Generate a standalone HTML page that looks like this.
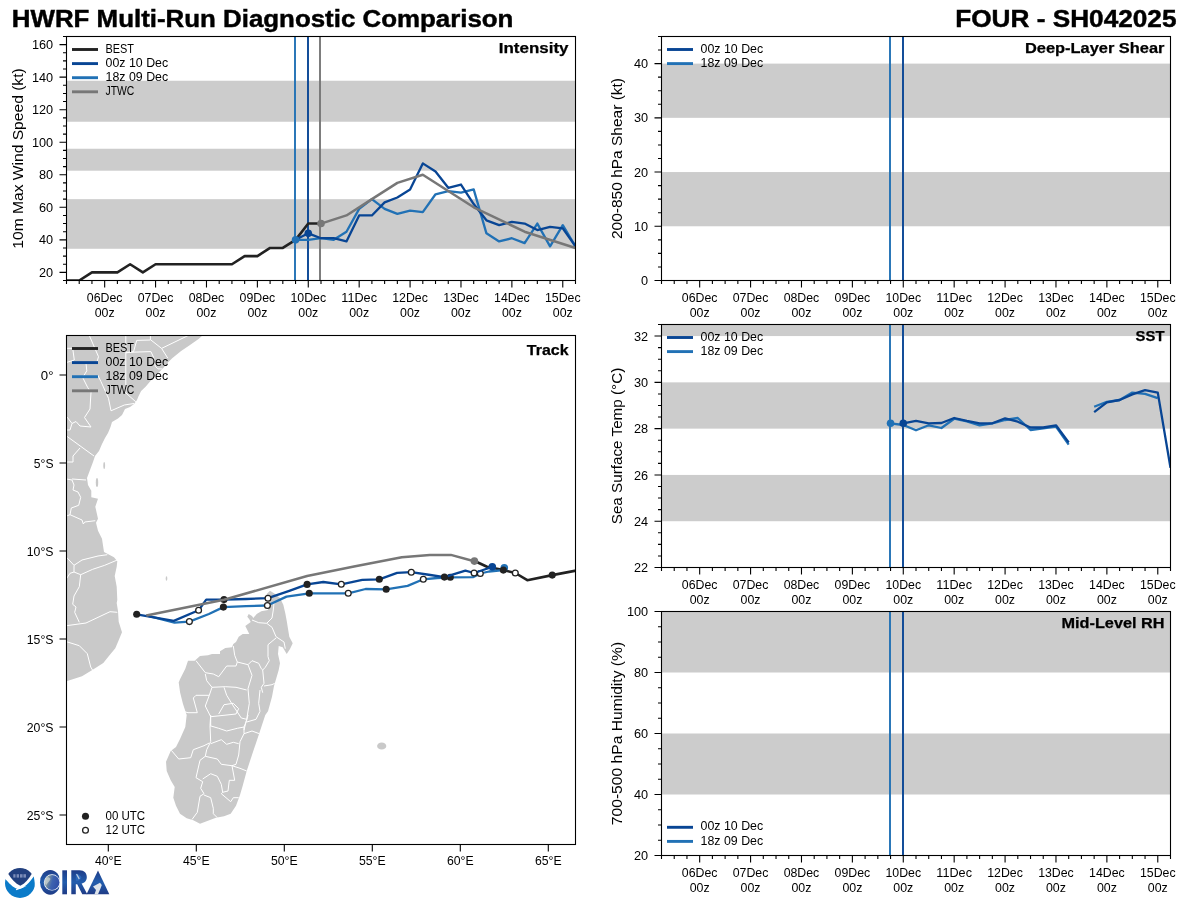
<!DOCTYPE html><html><head><meta charset="utf-8"><style>html,body{margin:0;padding:0;background:#fff;width:1200px;height:900px;overflow:hidden}svg{display:block;will-change:transform}text{font-family:"Liberation Sans",sans-serif}</style></head><body>
<svg width="1200" height="900" viewBox="0 0 1200 900">
<rect width="1200" height="900" fill="#fff"/>
<text x="11.85" y="26.80" font-size="23.55" text-anchor="start" font-weight="bold" stroke="#000" stroke-width="0.45" textLength="501.56" lengthAdjust="spacingAndGlyphs" fill="#000">HWRF Multi-Run Diagnostic Comparison</text>
<text x="1176.50" y="26.80" font-size="23.55" text-anchor="end" font-weight="bold" stroke="#000" stroke-width="0.45" textLength="221.28" lengthAdjust="spacingAndGlyphs" fill="#000">FOUR - SH042025</text>
<rect x="66.50" y="199.17" width="509.00" height="49.61" fill="#cccccc"/>
<rect x="66.50" y="148.74" width="509.00" height="21.96" fill="#cccccc"/>
<rect x="66.50" y="80.75" width="509.00" height="40.99" fill="#cccccc"/>
<defs><clipPath id="ci"><rect x="66.5" y="36.5" width="509.0" height="244.0"/></clipPath></defs>
<g clip-path="url(#ci)">
<line x1="295.00" y1="36.50" x2="295.00" y2="280.50" stroke="#2171b5" stroke-width="1.9"/>
<line x1="308.00" y1="36.50" x2="308.00" y2="280.50" stroke="#084594" stroke-width="1.9"/>
<line x1="320.00" y1="36.50" x2="320.00" y2="280.50" stroke="#777777" stroke-width="1.9"/>
<polyline points="66.50,280.50 79.22,280.50 91.95,272.37 104.67,272.37 117.40,272.37 130.12,264.23 142.85,272.37 155.57,264.23 168.30,264.23 181.03,264.23 193.75,264.23 206.48,264.23 219.20,264.23 231.93,264.23 244.65,256.10 257.38,256.10 270.10,247.97 282.82,247.97 295.55,239.83 308.27,223.57 321.00,223.57" fill="none" stroke="#222222" stroke-width="2.6" stroke-linejoin="round" stroke-linecap="butt"/>
<polyline points="295.55,239.83 308.27,239.83 321.00,238.21 333.73,239.83 346.45,231.70 359.17,208.93 371.90,199.17 384.62,208.93 397.35,213.81 410.08,210.55 422.80,212.18 435.52,194.29 448.25,191.03 460.98,192.66 473.70,189.41 486.42,233.33 499.15,241.46 511.88,238.21 524.60,243.09 537.33,223.57 550.05,246.34 562.77,225.19 575.50,246.34" fill="none" stroke="#2171b5" stroke-width="2.3" stroke-linejoin="round" stroke-linecap="butt"/>
<polyline points="295.55,239.83 308.27,233.33 321.00,238.21 333.73,238.21 346.45,241.46 359.17,215.43 371.90,215.43 384.62,202.42 397.35,197.54 410.08,189.41 422.80,163.38 435.52,171.51 448.25,187.78 460.98,184.53 473.70,204.05 486.42,220.31 499.15,225.19 511.88,221.94 524.60,223.57 537.33,230.07 550.05,226.82 562.77,228.45 575.50,246.34" fill="none" stroke="#084594" stroke-width="2.3" stroke-linejoin="round" stroke-linecap="butt"/>
<polyline points="321.00,223.57 346.45,215.43 371.90,199.17 397.35,182.90 422.80,174.77 473.70,207.30 524.60,231.70 575.50,247.97" fill="none" stroke="#777777" stroke-width="2.5" stroke-linejoin="round" stroke-linecap="butt"/>
<circle cx="295.55" cy="239.83" r="3.8" fill="#2171b5"/>
<circle cx="308.27" cy="233.33" r="3.8" fill="#084594"/>
<circle cx="321.00" cy="223.57" r="3.8" fill="#777777"/>
</g>
<rect x="66.50" y="36.50" width="509.00" height="244.00" fill="none" stroke="#000" stroke-width="1.1"/>
<path d="M66.50 280.50V284.00M79.22 280.50V284.00M91.95 280.50V284.00M104.67 280.50V287.50M117.40 280.50V284.00M130.12 280.50V284.00M142.85 280.50V284.00M155.57 280.50V287.50M168.30 280.50V284.00M181.03 280.50V284.00M193.75 280.50V284.00M206.48 280.50V287.50M219.20 280.50V284.00M231.93 280.50V284.00M244.65 280.50V284.00M257.38 280.50V287.50M270.10 280.50V284.00M282.82 280.50V284.00M295.55 280.50V284.00M308.27 280.50V287.50M321.00 280.50V284.00M333.73 280.50V284.00M346.45 280.50V284.00M359.17 280.50V287.50M371.90 280.50V284.00M384.62 280.50V284.00M397.35 280.50V284.00M410.08 280.50V287.50M422.80 280.50V284.00M435.52 280.50V284.00M448.25 280.50V284.00M460.98 280.50V287.50M473.70 280.50V284.00M486.42 280.50V284.00M499.15 280.50V284.00M511.88 280.50V287.50M524.60 280.50V284.00M537.33 280.50V284.00M550.05 280.50V284.00M562.77 280.50V287.50M575.50 280.50V284.00" stroke="#000" stroke-width="1.1" fill="none"/>
<text x="104.67" y="301.80" font-size="12.22" text-anchor="middle" textLength="35.64" lengthAdjust="spacingAndGlyphs" fill="#000">06Dec</text>
<text x="104.67" y="316.80" font-size="12.22" text-anchor="middle" textLength="19.97" lengthAdjust="spacingAndGlyphs" fill="#000">00z</text>
<text x="155.57" y="301.80" font-size="12.22" text-anchor="middle" textLength="35.64" lengthAdjust="spacingAndGlyphs" fill="#000">07Dec</text>
<text x="155.57" y="316.80" font-size="12.22" text-anchor="middle" textLength="19.97" lengthAdjust="spacingAndGlyphs" fill="#000">00z</text>
<text x="206.48" y="301.80" font-size="12.22" text-anchor="middle" textLength="35.64" lengthAdjust="spacingAndGlyphs" fill="#000">08Dec</text>
<text x="206.48" y="316.80" font-size="12.22" text-anchor="middle" textLength="19.97" lengthAdjust="spacingAndGlyphs" fill="#000">00z</text>
<text x="257.38" y="301.80" font-size="12.22" text-anchor="middle" textLength="35.64" lengthAdjust="spacingAndGlyphs" fill="#000">09Dec</text>
<text x="257.38" y="316.80" font-size="12.22" text-anchor="middle" textLength="19.97" lengthAdjust="spacingAndGlyphs" fill="#000">00z</text>
<text x="308.27" y="301.80" font-size="12.22" text-anchor="middle" textLength="35.64" lengthAdjust="spacingAndGlyphs" fill="#000">10Dec</text>
<text x="308.27" y="316.80" font-size="12.22" text-anchor="middle" textLength="19.97" lengthAdjust="spacingAndGlyphs" fill="#000">00z</text>
<text x="359.17" y="301.80" font-size="12.22" text-anchor="middle" textLength="35.64" lengthAdjust="spacingAndGlyphs" fill="#000">11Dec</text>
<text x="359.17" y="316.80" font-size="12.22" text-anchor="middle" textLength="19.97" lengthAdjust="spacingAndGlyphs" fill="#000">00z</text>
<text x="410.08" y="301.80" font-size="12.22" text-anchor="middle" textLength="35.64" lengthAdjust="spacingAndGlyphs" fill="#000">12Dec</text>
<text x="410.08" y="316.80" font-size="12.22" text-anchor="middle" textLength="19.97" lengthAdjust="spacingAndGlyphs" fill="#000">00z</text>
<text x="460.98" y="301.80" font-size="12.22" text-anchor="middle" textLength="35.64" lengthAdjust="spacingAndGlyphs" fill="#000">13Dec</text>
<text x="460.98" y="316.80" font-size="12.22" text-anchor="middle" textLength="19.97" lengthAdjust="spacingAndGlyphs" fill="#000">00z</text>
<text x="511.88" y="301.80" font-size="12.22" text-anchor="middle" textLength="35.64" lengthAdjust="spacingAndGlyphs" fill="#000">14Dec</text>
<text x="511.88" y="316.80" font-size="12.22" text-anchor="middle" textLength="19.97" lengthAdjust="spacingAndGlyphs" fill="#000">00z</text>
<text x="562.77" y="301.80" font-size="12.22" text-anchor="middle" textLength="35.64" lengthAdjust="spacingAndGlyphs" fill="#000">15Dec</text>
<text x="562.77" y="316.80" font-size="12.22" text-anchor="middle" textLength="19.97" lengthAdjust="spacingAndGlyphs" fill="#000">00z</text>
<path d="M63.00 280.50H66.50M59.50 272.37H66.50M63.00 264.23H66.50M63.00 256.10H66.50M63.00 247.97H66.50M59.50 239.83H66.50M63.00 231.70H66.50M63.00 223.57H66.50M63.00 215.43H66.50M59.50 207.30H66.50M63.00 199.17H66.50M63.00 191.03H66.50M63.00 182.90H66.50M59.50 174.77H66.50M63.00 166.63H66.50M63.00 158.50H66.50M63.00 150.37H66.50M59.50 142.23H66.50M63.00 134.10H66.50M63.00 125.97H66.50M63.00 117.83H66.50M59.50 109.70H66.50M63.00 101.57H66.50M63.00 93.43H66.50M63.00 85.30H66.50M59.50 77.17H66.50M63.00 69.03H66.50M63.00 60.90H66.50M63.00 52.77H66.50M59.50 44.63H66.50M63.00 36.50H66.50" stroke="#000" stroke-width="1.1" fill="none"/>
<text x="53.20" y="276.97" font-size="12.22" text-anchor="end" textLength="14.14" lengthAdjust="spacingAndGlyphs" fill="#000">20</text>
<text x="53.20" y="244.43" font-size="12.22" text-anchor="end" textLength="14.14" lengthAdjust="spacingAndGlyphs" fill="#000">40</text>
<text x="53.20" y="211.90" font-size="12.22" text-anchor="end" textLength="14.14" lengthAdjust="spacingAndGlyphs" fill="#000">60</text>
<text x="53.20" y="179.37" font-size="12.22" text-anchor="end" textLength="14.14" lengthAdjust="spacingAndGlyphs" fill="#000">80</text>
<text x="53.20" y="146.83" font-size="12.22" text-anchor="end" textLength="21.21" lengthAdjust="spacingAndGlyphs" fill="#000">100</text>
<text x="53.20" y="114.30" font-size="12.22" text-anchor="end" textLength="21.21" lengthAdjust="spacingAndGlyphs" fill="#000">120</text>
<text x="53.20" y="81.77" font-size="12.22" text-anchor="end" textLength="21.21" lengthAdjust="spacingAndGlyphs" fill="#000">140</text>
<text x="53.20" y="49.23" font-size="12.22" text-anchor="end" textLength="21.21" lengthAdjust="spacingAndGlyphs" fill="#000">160</text>
<text x="23.10" y="158.50" font-size="15.28" text-anchor="middle" textLength="180.36" lengthAdjust="spacingAndGlyphs" transform="rotate(-90 23.10 158.50)" fill="#000">10m Max Wind Speed (kt)</text>
<text x="568.50" y="53.00" font-size="14.72" text-anchor="end" font-weight="bold" stroke="#000" stroke-width="0.25" textLength="69.73" lengthAdjust="spacingAndGlyphs" fill="#000">Intensity</text>
<line x1="72.00" y1="49.50" x2="98.00" y2="49.50" stroke="#222222" stroke-width="2.9"/>
<text x="105.50" y="52.60" font-size="12.22" text-anchor="start" textLength="28.48" lengthAdjust="spacingAndGlyphs" fill="#000">BEST</text>
<line x1="72.00" y1="63.60" x2="98.00" y2="63.60" stroke="#084594" stroke-width="2.9"/>
<text x="105.50" y="66.70" font-size="12.22" text-anchor="start" textLength="62.67" lengthAdjust="spacingAndGlyphs" fill="#000">00z 10 Dec</text>
<line x1="72.00" y1="77.70" x2="98.00" y2="77.70" stroke="#2171b5" stroke-width="2.9"/>
<text x="105.50" y="80.80" font-size="12.22" text-anchor="start" textLength="62.67" lengthAdjust="spacingAndGlyphs" fill="#000">18z 09 Dec</text>
<line x1="72.00" y1="91.80" x2="98.00" y2="91.80" stroke="#777777" stroke-width="2.9"/>
<text x="105.50" y="94.90" font-size="12.22" text-anchor="start" textLength="28.81" lengthAdjust="spacingAndGlyphs" fill="#000">JTWC</text>
<rect x="661.50" y="172.06" width="509.00" height="54.22" fill="#cccccc"/>
<rect x="661.50" y="63.61" width="509.00" height="54.22" fill="#cccccc"/>
<line x1="890.00" y1="36.50" x2="890.00" y2="280.50" stroke="#2171b5" stroke-width="1.9"/>
<line x1="903.00" y1="36.50" x2="903.00" y2="280.50" stroke="#084594" stroke-width="1.9"/>
<rect x="661.50" y="36.50" width="509.00" height="244.00" fill="none" stroke="#000" stroke-width="1.1"/>
<path d="M661.50 280.50V284.00M674.23 280.50V284.00M686.95 280.50V284.00M699.67 280.50V287.50M712.40 280.50V284.00M725.12 280.50V284.00M737.85 280.50V284.00M750.58 280.50V287.50M763.30 280.50V284.00M776.02 280.50V284.00M788.75 280.50V284.00M801.48 280.50V287.50M814.20 280.50V284.00M826.92 280.50V284.00M839.65 280.50V284.00M852.38 280.50V287.50M865.10 280.50V284.00M877.83 280.50V284.00M890.55 280.50V284.00M903.27 280.50V287.50M916.00 280.50V284.00M928.73 280.50V284.00M941.45 280.50V284.00M954.17 280.50V287.50M966.90 280.50V284.00M979.62 280.50V284.00M992.35 280.50V284.00M1005.08 280.50V287.50M1017.80 280.50V284.00M1030.53 280.50V284.00M1043.25 280.50V284.00M1055.97 280.50V287.50M1068.70 280.50V284.00M1081.42 280.50V284.00M1094.15 280.50V284.00M1106.88 280.50V287.50M1119.60 280.50V284.00M1132.33 280.50V284.00M1145.05 280.50V284.00M1157.78 280.50V287.50M1170.50 280.50V284.00" stroke="#000" stroke-width="1.1" fill="none"/>
<text x="699.67" y="301.80" font-size="12.22" text-anchor="middle" textLength="35.64" lengthAdjust="spacingAndGlyphs" fill="#000">06Dec</text>
<text x="699.67" y="316.80" font-size="12.22" text-anchor="middle" textLength="19.97" lengthAdjust="spacingAndGlyphs" fill="#000">00z</text>
<text x="750.58" y="301.80" font-size="12.22" text-anchor="middle" textLength="35.64" lengthAdjust="spacingAndGlyphs" fill="#000">07Dec</text>
<text x="750.58" y="316.80" font-size="12.22" text-anchor="middle" textLength="19.97" lengthAdjust="spacingAndGlyphs" fill="#000">00z</text>
<text x="801.48" y="301.80" font-size="12.22" text-anchor="middle" textLength="35.64" lengthAdjust="spacingAndGlyphs" fill="#000">08Dec</text>
<text x="801.48" y="316.80" font-size="12.22" text-anchor="middle" textLength="19.97" lengthAdjust="spacingAndGlyphs" fill="#000">00z</text>
<text x="852.38" y="301.80" font-size="12.22" text-anchor="middle" textLength="35.64" lengthAdjust="spacingAndGlyphs" fill="#000">09Dec</text>
<text x="852.38" y="316.80" font-size="12.22" text-anchor="middle" textLength="19.97" lengthAdjust="spacingAndGlyphs" fill="#000">00z</text>
<text x="903.27" y="301.80" font-size="12.22" text-anchor="middle" textLength="35.64" lengthAdjust="spacingAndGlyphs" fill="#000">10Dec</text>
<text x="903.27" y="316.80" font-size="12.22" text-anchor="middle" textLength="19.97" lengthAdjust="spacingAndGlyphs" fill="#000">00z</text>
<text x="954.17" y="301.80" font-size="12.22" text-anchor="middle" textLength="35.64" lengthAdjust="spacingAndGlyphs" fill="#000">11Dec</text>
<text x="954.17" y="316.80" font-size="12.22" text-anchor="middle" textLength="19.97" lengthAdjust="spacingAndGlyphs" fill="#000">00z</text>
<text x="1005.08" y="301.80" font-size="12.22" text-anchor="middle" textLength="35.64" lengthAdjust="spacingAndGlyphs" fill="#000">12Dec</text>
<text x="1005.08" y="316.80" font-size="12.22" text-anchor="middle" textLength="19.97" lengthAdjust="spacingAndGlyphs" fill="#000">00z</text>
<text x="1055.97" y="301.80" font-size="12.22" text-anchor="middle" textLength="35.64" lengthAdjust="spacingAndGlyphs" fill="#000">13Dec</text>
<text x="1055.97" y="316.80" font-size="12.22" text-anchor="middle" textLength="19.97" lengthAdjust="spacingAndGlyphs" fill="#000">00z</text>
<text x="1106.88" y="301.80" font-size="12.22" text-anchor="middle" textLength="35.64" lengthAdjust="spacingAndGlyphs" fill="#000">14Dec</text>
<text x="1106.88" y="316.80" font-size="12.22" text-anchor="middle" textLength="19.97" lengthAdjust="spacingAndGlyphs" fill="#000">00z</text>
<text x="1157.78" y="301.80" font-size="12.22" text-anchor="middle" textLength="35.64" lengthAdjust="spacingAndGlyphs" fill="#000">15Dec</text>
<text x="1157.78" y="316.80" font-size="12.22" text-anchor="middle" textLength="19.97" lengthAdjust="spacingAndGlyphs" fill="#000">00z</text>
<path d="M654.50 280.50H661.50M658.00 266.94H661.50M658.00 253.39H661.50M658.00 239.83H661.50M654.50 226.28H661.50M658.00 212.72H661.50M658.00 199.17H661.50M658.00 185.61H661.50M654.50 172.06H661.50M658.00 158.50H661.50M658.00 144.94H661.50M658.00 131.39H661.50M654.50 117.83H661.50M658.00 104.28H661.50M658.00 90.72H661.50M658.00 77.17H661.50M654.50 63.61H661.50M658.00 50.06H661.50M658.00 36.50H661.50" stroke="#000" stroke-width="1.1" fill="none"/>
<text x="648.20" y="285.10" font-size="12.22" text-anchor="end" textLength="7.07" lengthAdjust="spacingAndGlyphs" fill="#000">0</text>
<text x="648.20" y="230.88" font-size="12.22" text-anchor="end" textLength="14.14" lengthAdjust="spacingAndGlyphs" fill="#000">10</text>
<text x="648.20" y="176.66" font-size="12.22" text-anchor="end" textLength="14.14" lengthAdjust="spacingAndGlyphs" fill="#000">20</text>
<text x="648.20" y="122.43" font-size="12.22" text-anchor="end" textLength="14.14" lengthAdjust="spacingAndGlyphs" fill="#000">30</text>
<text x="648.20" y="68.21" font-size="12.22" text-anchor="end" textLength="14.14" lengthAdjust="spacingAndGlyphs" fill="#000">40</text>
<text x="622.20" y="158.50" font-size="15.28" text-anchor="middle" textLength="161.07" lengthAdjust="spacingAndGlyphs" transform="rotate(-90 622.20 158.50)" fill="#000">200-850 hPa Shear (kt)</text>
<text x="1164.50" y="53.00" font-size="14.72" text-anchor="end" font-weight="bold" stroke="#000" stroke-width="0.25" textLength="139.57" lengthAdjust="spacingAndGlyphs" fill="#000">Deep-Layer Shear</text>
<line x1="667.00" y1="49.50" x2="693.00" y2="49.50" stroke="#084594" stroke-width="2.9"/>
<text x="700.50" y="52.60" font-size="12.22" text-anchor="start" textLength="62.67" lengthAdjust="spacingAndGlyphs" fill="#000">00z 10 Dec</text>
<line x1="667.00" y1="63.60" x2="693.00" y2="63.60" stroke="#2171b5" stroke-width="2.9"/>
<text x="700.50" y="66.70" font-size="12.22" text-anchor="start" textLength="62.67" lengthAdjust="spacingAndGlyphs" fill="#000">18z 09 Dec</text>
<rect x="661.50" y="474.93" width="509.00" height="46.29" fill="#cccccc"/>
<rect x="661.50" y="382.36" width="509.00" height="46.29" fill="#cccccc"/>
<rect x="661.50" y="324.50" width="509.00" height="11.57" fill="#cccccc"/>
<defs><clipPath id="cs"><rect x="661.5" y="324.5" width="509.0" height="243.0"/></clipPath></defs>
<g clip-path="url(#cs)">
<line x1="890.00" y1="324.50" x2="890.00" y2="567.50" stroke="#2171b5" stroke-width="1.9"/>
<line x1="903.00" y1="324.50" x2="903.00" y2="567.50" stroke="#084594" stroke-width="1.9"/>
<polyline points="890.55,423.30 903.27,425.00 916.00,430.30 928.73,425.30 941.45,428.00 954.17,418.70 966.90,421.30 979.62,425.30 992.35,423.30 1005.08,420.00 1017.80,418.00 1030.53,430.00 1043.25,428.30 1055.97,426.70 1068.70,444.70" fill="none" stroke="#2171b5" stroke-width="2.3" stroke-linejoin="round" stroke-linecap="butt"/>
<polyline points="903.27,423.30 916.00,420.80 928.73,423.30 941.45,423.00 954.17,418.00 966.90,420.80 979.62,423.30 992.35,423.30 1005.08,418.30 1017.80,421.70 1030.53,427.50 1043.25,427.50 1055.97,425.30 1068.70,442.50" fill="none" stroke="#084594" stroke-width="2.3" stroke-linejoin="round" stroke-linecap="butt"/>
<polyline points="1094.15,406.70 1106.88,401.80 1119.60,400.00 1132.33,392.60 1145.05,393.80 1157.78,398.10" fill="none" stroke="#2171b5" stroke-width="2.3" stroke-linejoin="round" stroke-linecap="butt"/>
<polyline points="1094.15,412.20 1106.88,402.40 1119.60,400.00 1132.33,394.40 1145.05,390.20 1157.78,392.60 1170.50,467.80" fill="none" stroke="#084594" stroke-width="2.3" stroke-linejoin="round" stroke-linecap="butt"/>
<circle cx="890.55" cy="423.3" r="3.8" fill="#2171b5"/>
<circle cx="903.27" cy="423.3" r="3.8" fill="#084594"/>
</g>
<rect x="661.50" y="324.50" width="509.00" height="243.00" fill="none" stroke="#000" stroke-width="1.1"/>
<path d="M661.50 567.50V571.00M674.23 567.50V571.00M686.95 567.50V571.00M699.67 567.50V574.50M712.40 567.50V571.00M725.12 567.50V571.00M737.85 567.50V571.00M750.58 567.50V574.50M763.30 567.50V571.00M776.02 567.50V571.00M788.75 567.50V571.00M801.48 567.50V574.50M814.20 567.50V571.00M826.92 567.50V571.00M839.65 567.50V571.00M852.38 567.50V574.50M865.10 567.50V571.00M877.83 567.50V571.00M890.55 567.50V571.00M903.27 567.50V574.50M916.00 567.50V571.00M928.73 567.50V571.00M941.45 567.50V571.00M954.17 567.50V574.50M966.90 567.50V571.00M979.62 567.50V571.00M992.35 567.50V571.00M1005.08 567.50V574.50M1017.80 567.50V571.00M1030.53 567.50V571.00M1043.25 567.50V571.00M1055.97 567.50V574.50M1068.70 567.50V571.00M1081.42 567.50V571.00M1094.15 567.50V571.00M1106.88 567.50V574.50M1119.60 567.50V571.00M1132.33 567.50V571.00M1145.05 567.50V571.00M1157.78 567.50V574.50M1170.50 567.50V571.00" stroke="#000" stroke-width="1.1" fill="none"/>
<text x="699.67" y="588.80" font-size="12.22" text-anchor="middle" textLength="35.64" lengthAdjust="spacingAndGlyphs" fill="#000">06Dec</text>
<text x="699.67" y="603.80" font-size="12.22" text-anchor="middle" textLength="19.97" lengthAdjust="spacingAndGlyphs" fill="#000">00z</text>
<text x="750.58" y="588.80" font-size="12.22" text-anchor="middle" textLength="35.64" lengthAdjust="spacingAndGlyphs" fill="#000">07Dec</text>
<text x="750.58" y="603.80" font-size="12.22" text-anchor="middle" textLength="19.97" lengthAdjust="spacingAndGlyphs" fill="#000">00z</text>
<text x="801.48" y="588.80" font-size="12.22" text-anchor="middle" textLength="35.64" lengthAdjust="spacingAndGlyphs" fill="#000">08Dec</text>
<text x="801.48" y="603.80" font-size="12.22" text-anchor="middle" textLength="19.97" lengthAdjust="spacingAndGlyphs" fill="#000">00z</text>
<text x="852.38" y="588.80" font-size="12.22" text-anchor="middle" textLength="35.64" lengthAdjust="spacingAndGlyphs" fill="#000">09Dec</text>
<text x="852.38" y="603.80" font-size="12.22" text-anchor="middle" textLength="19.97" lengthAdjust="spacingAndGlyphs" fill="#000">00z</text>
<text x="903.27" y="588.80" font-size="12.22" text-anchor="middle" textLength="35.64" lengthAdjust="spacingAndGlyphs" fill="#000">10Dec</text>
<text x="903.27" y="603.80" font-size="12.22" text-anchor="middle" textLength="19.97" lengthAdjust="spacingAndGlyphs" fill="#000">00z</text>
<text x="954.17" y="588.80" font-size="12.22" text-anchor="middle" textLength="35.64" lengthAdjust="spacingAndGlyphs" fill="#000">11Dec</text>
<text x="954.17" y="603.80" font-size="12.22" text-anchor="middle" textLength="19.97" lengthAdjust="spacingAndGlyphs" fill="#000">00z</text>
<text x="1005.08" y="588.80" font-size="12.22" text-anchor="middle" textLength="35.64" lengthAdjust="spacingAndGlyphs" fill="#000">12Dec</text>
<text x="1005.08" y="603.80" font-size="12.22" text-anchor="middle" textLength="19.97" lengthAdjust="spacingAndGlyphs" fill="#000">00z</text>
<text x="1055.97" y="588.80" font-size="12.22" text-anchor="middle" textLength="35.64" lengthAdjust="spacingAndGlyphs" fill="#000">13Dec</text>
<text x="1055.97" y="603.80" font-size="12.22" text-anchor="middle" textLength="19.97" lengthAdjust="spacingAndGlyphs" fill="#000">00z</text>
<text x="1106.88" y="588.80" font-size="12.22" text-anchor="middle" textLength="35.64" lengthAdjust="spacingAndGlyphs" fill="#000">14Dec</text>
<text x="1106.88" y="603.80" font-size="12.22" text-anchor="middle" textLength="19.97" lengthAdjust="spacingAndGlyphs" fill="#000">00z</text>
<text x="1157.78" y="588.80" font-size="12.22" text-anchor="middle" textLength="35.64" lengthAdjust="spacingAndGlyphs" fill="#000">15Dec</text>
<text x="1157.78" y="603.80" font-size="12.22" text-anchor="middle" textLength="19.97" lengthAdjust="spacingAndGlyphs" fill="#000">00z</text>
<path d="M654.50 567.50H661.50M658.00 555.93H661.50M658.00 544.36H661.50M658.00 532.79H661.50M654.50 521.21H661.50M658.00 509.64H661.50M658.00 498.07H661.50M658.00 486.50H661.50M654.50 474.93H661.50M658.00 463.36H661.50M658.00 451.79H661.50M658.00 440.21H661.50M654.50 428.64H661.50M658.00 417.07H661.50M658.00 405.50H661.50M658.00 393.93H661.50M654.50 382.36H661.50M658.00 370.79H661.50M658.00 359.21H661.50M658.00 347.64H661.50M654.50 336.07H661.50M658.00 324.50H661.50" stroke="#000" stroke-width="1.1" fill="none"/>
<text x="648.20" y="572.10" font-size="12.22" text-anchor="end" textLength="14.14" lengthAdjust="spacingAndGlyphs" fill="#000">22</text>
<text x="648.20" y="525.81" font-size="12.22" text-anchor="end" textLength="14.14" lengthAdjust="spacingAndGlyphs" fill="#000">24</text>
<text x="648.20" y="479.53" font-size="12.22" text-anchor="end" textLength="14.14" lengthAdjust="spacingAndGlyphs" fill="#000">26</text>
<text x="648.20" y="433.24" font-size="12.22" text-anchor="end" textLength="14.14" lengthAdjust="spacingAndGlyphs" fill="#000">28</text>
<text x="648.20" y="386.96" font-size="12.22" text-anchor="end" textLength="14.14" lengthAdjust="spacingAndGlyphs" fill="#000">30</text>
<text x="648.20" y="340.67" font-size="12.22" text-anchor="end" textLength="14.14" lengthAdjust="spacingAndGlyphs" fill="#000">32</text>
<text x="622.20" y="446.00" font-size="15.28" text-anchor="middle" textLength="156.54" lengthAdjust="spacingAndGlyphs" transform="rotate(-90 622.20 446.00)" fill="#000">Sea Surface Temp (°C)</text>
<text x="1164.50" y="341.00" font-size="14.72" text-anchor="end" font-weight="bold" stroke="#000" stroke-width="0.25" textLength="28.86" lengthAdjust="spacingAndGlyphs" fill="#000">SST</text>
<line x1="667.00" y1="337.50" x2="693.00" y2="337.50" stroke="#084594" stroke-width="2.9"/>
<text x="700.50" y="340.60" font-size="12.22" text-anchor="start" textLength="62.67" lengthAdjust="spacingAndGlyphs" fill="#000">00z 10 Dec</text>
<line x1="667.00" y1="351.60" x2="693.00" y2="351.60" stroke="#2171b5" stroke-width="2.9"/>
<text x="700.50" y="354.70" font-size="12.22" text-anchor="start" textLength="62.67" lengthAdjust="spacingAndGlyphs" fill="#000">18z 09 Dec</text>
<rect x="661.50" y="733.50" width="509.00" height="61.00" fill="#cccccc"/>
<rect x="661.50" y="611.50" width="509.00" height="61.00" fill="#cccccc"/>
<line x1="890.00" y1="611.50" x2="890.00" y2="855.50" stroke="#2171b5" stroke-width="1.9"/>
<line x1="903.00" y1="611.50" x2="903.00" y2="855.50" stroke="#084594" stroke-width="1.9"/>
<rect x="661.50" y="611.50" width="509.00" height="244.00" fill="none" stroke="#000" stroke-width="1.1"/>
<path d="M661.50 855.50V859.00M674.23 855.50V859.00M686.95 855.50V859.00M699.67 855.50V862.50M712.40 855.50V859.00M725.12 855.50V859.00M737.85 855.50V859.00M750.58 855.50V862.50M763.30 855.50V859.00M776.02 855.50V859.00M788.75 855.50V859.00M801.48 855.50V862.50M814.20 855.50V859.00M826.92 855.50V859.00M839.65 855.50V859.00M852.38 855.50V862.50M865.10 855.50V859.00M877.83 855.50V859.00M890.55 855.50V859.00M903.27 855.50V862.50M916.00 855.50V859.00M928.73 855.50V859.00M941.45 855.50V859.00M954.17 855.50V862.50M966.90 855.50V859.00M979.62 855.50V859.00M992.35 855.50V859.00M1005.08 855.50V862.50M1017.80 855.50V859.00M1030.53 855.50V859.00M1043.25 855.50V859.00M1055.97 855.50V862.50M1068.70 855.50V859.00M1081.42 855.50V859.00M1094.15 855.50V859.00M1106.88 855.50V862.50M1119.60 855.50V859.00M1132.33 855.50V859.00M1145.05 855.50V859.00M1157.78 855.50V862.50M1170.50 855.50V859.00" stroke="#000" stroke-width="1.1" fill="none"/>
<text x="699.67" y="876.80" font-size="12.22" text-anchor="middle" textLength="35.64" lengthAdjust="spacingAndGlyphs" fill="#000">06Dec</text>
<text x="699.67" y="891.80" font-size="12.22" text-anchor="middle" textLength="19.97" lengthAdjust="spacingAndGlyphs" fill="#000">00z</text>
<text x="750.58" y="876.80" font-size="12.22" text-anchor="middle" textLength="35.64" lengthAdjust="spacingAndGlyphs" fill="#000">07Dec</text>
<text x="750.58" y="891.80" font-size="12.22" text-anchor="middle" textLength="19.97" lengthAdjust="spacingAndGlyphs" fill="#000">00z</text>
<text x="801.48" y="876.80" font-size="12.22" text-anchor="middle" textLength="35.64" lengthAdjust="spacingAndGlyphs" fill="#000">08Dec</text>
<text x="801.48" y="891.80" font-size="12.22" text-anchor="middle" textLength="19.97" lengthAdjust="spacingAndGlyphs" fill="#000">00z</text>
<text x="852.38" y="876.80" font-size="12.22" text-anchor="middle" textLength="35.64" lengthAdjust="spacingAndGlyphs" fill="#000">09Dec</text>
<text x="852.38" y="891.80" font-size="12.22" text-anchor="middle" textLength="19.97" lengthAdjust="spacingAndGlyphs" fill="#000">00z</text>
<text x="903.27" y="876.80" font-size="12.22" text-anchor="middle" textLength="35.64" lengthAdjust="spacingAndGlyphs" fill="#000">10Dec</text>
<text x="903.27" y="891.80" font-size="12.22" text-anchor="middle" textLength="19.97" lengthAdjust="spacingAndGlyphs" fill="#000">00z</text>
<text x="954.17" y="876.80" font-size="12.22" text-anchor="middle" textLength="35.64" lengthAdjust="spacingAndGlyphs" fill="#000">11Dec</text>
<text x="954.17" y="891.80" font-size="12.22" text-anchor="middle" textLength="19.97" lengthAdjust="spacingAndGlyphs" fill="#000">00z</text>
<text x="1005.08" y="876.80" font-size="12.22" text-anchor="middle" textLength="35.64" lengthAdjust="spacingAndGlyphs" fill="#000">12Dec</text>
<text x="1005.08" y="891.80" font-size="12.22" text-anchor="middle" textLength="19.97" lengthAdjust="spacingAndGlyphs" fill="#000">00z</text>
<text x="1055.97" y="876.80" font-size="12.22" text-anchor="middle" textLength="35.64" lengthAdjust="spacingAndGlyphs" fill="#000">13Dec</text>
<text x="1055.97" y="891.80" font-size="12.22" text-anchor="middle" textLength="19.97" lengthAdjust="spacingAndGlyphs" fill="#000">00z</text>
<text x="1106.88" y="876.80" font-size="12.22" text-anchor="middle" textLength="35.64" lengthAdjust="spacingAndGlyphs" fill="#000">14Dec</text>
<text x="1106.88" y="891.80" font-size="12.22" text-anchor="middle" textLength="19.97" lengthAdjust="spacingAndGlyphs" fill="#000">00z</text>
<text x="1157.78" y="876.80" font-size="12.22" text-anchor="middle" textLength="35.64" lengthAdjust="spacingAndGlyphs" fill="#000">15Dec</text>
<text x="1157.78" y="891.80" font-size="12.22" text-anchor="middle" textLength="19.97" lengthAdjust="spacingAndGlyphs" fill="#000">00z</text>
<path d="M654.50 855.50H661.50M658.00 840.25H661.50M658.00 825.00H661.50M658.00 809.75H661.50M654.50 794.50H661.50M658.00 779.25H661.50M658.00 764.00H661.50M658.00 748.75H661.50M654.50 733.50H661.50M658.00 718.25H661.50M658.00 703.00H661.50M658.00 687.75H661.50M654.50 672.50H661.50M658.00 657.25H661.50M658.00 642.00H661.50M658.00 626.75H661.50M654.50 611.50H661.50" stroke="#000" stroke-width="1.1" fill="none"/>
<text x="648.20" y="860.10" font-size="12.22" text-anchor="end" textLength="14.14" lengthAdjust="spacingAndGlyphs" fill="#000">20</text>
<text x="648.20" y="799.10" font-size="12.22" text-anchor="end" textLength="14.14" lengthAdjust="spacingAndGlyphs" fill="#000">40</text>
<text x="648.20" y="738.10" font-size="12.22" text-anchor="end" textLength="14.14" lengthAdjust="spacingAndGlyphs" fill="#000">60</text>
<text x="648.20" y="677.10" font-size="12.22" text-anchor="end" textLength="14.14" lengthAdjust="spacingAndGlyphs" fill="#000">80</text>
<text x="648.20" y="616.10" font-size="12.22" text-anchor="end" textLength="21.21" lengthAdjust="spacingAndGlyphs" fill="#000">100</text>
<text x="622.20" y="733.50" font-size="15.28" text-anchor="middle" textLength="183.37" lengthAdjust="spacingAndGlyphs" transform="rotate(-90 622.20 733.50)" fill="#000">700-500 hPa Humidity (%)</text>
<text x="1164.50" y="628.00" font-size="14.72" text-anchor="end" font-weight="bold" stroke="#000" stroke-width="0.25" textLength="102.96" lengthAdjust="spacingAndGlyphs" fill="#000">Mid-Level RH</text>
<line x1="667.00" y1="827.30" x2="693.00" y2="827.30" stroke="#084594" stroke-width="2.9"/>
<text x="700.50" y="830.40" font-size="12.22" text-anchor="start" textLength="62.67" lengthAdjust="spacingAndGlyphs" fill="#000">00z 10 Dec</text>
<line x1="667.00" y1="841.40" x2="693.00" y2="841.40" stroke="#2171b5" stroke-width="2.9"/>
<text x="700.50" y="844.50" font-size="12.22" text-anchor="start" textLength="62.67" lengthAdjust="spacingAndGlyphs" fill="#000">18z 09 Dec</text>
<defs><clipPath id="ct"><rect x="66.5" y="335.5" width="509.0" height="509.0"/></clipPath></defs>
<g clip-path="url(#ct)">
<g fill="#c9c9c9" stroke="none">
<polygon points="202.4,335.5 198.9,338.7 190.0,344.9 181.1,351.1 172.2,358.2 166.9,363.6 163.3,368.0 156.2,375.1 150.9,380.4 145.6,386.7 141.1,391.1 138.4,396.4 137.0,400.0 134.0,404.0 130.0,407.0 125.0,409.0 122.0,415.0 118.0,418.5 112.0,422.0 110.5,427.0 108.0,433.0 105.0,438.0 102.0,444.0 99.0,451.0 95.0,456.0 93.0,462.0 90.0,470.0 87.0,478.0 88.0,485.0 91.3,490.7 91.3,497.3 98.0,498.7 95.3,506.7 98.0,518.7 96.0,522.7 98.0,530.7 102.0,538.7 104.0,552.0 114.0,557.3 117.3,561.3 116.7,566.7 114.7,576.0 116.7,586.7 117.3,600.0 116.7,603.0 118.0,611.0 118.7,621.7 122.0,632.3 118.7,640.3 115.3,648.3 108.7,656.3 103.3,663.0 92.7,669.7 82.0,676.3 67.3,681.0 60.0,683.0 60.0,330.0 205.0,330.0"/>
<polygon points="270.0,590.7 274.0,593.3 280.0,598.0 283.3,604.7 285.3,613.3 286.7,620.7 289.3,636.7 292.7,643.3 290.0,649.0 286.7,654.0 282.7,647.3 278.7,646.0 278.0,654.0 280.0,663.3 278.7,670.0 276.0,679.3 274.0,686.0 272.0,696.7 268.0,711.3 265.3,715.0 258.7,735.0 253.3,751.0 246.7,771.0 242.7,785.7 240.0,795.0 236.0,805.7 230.7,813.7 224.0,816.3 216.0,817.7 209.3,820.3 200.0,823.7 193.3,820.3 186.7,818.3 180.0,813.7 176.0,805.7 173.3,797.7 174.7,787.0 170.7,780.3 166.7,771.0 166.0,761.7 170.7,751.0 176.0,747.0 180.0,739.0 185.3,727.0 186.7,715.0 185.9,712.8 183.0,704.1 180.1,692.6 178.7,682.4 180.0,679.3 185.3,668.7 188.0,660.7 194.7,660.7 200.0,656.0 208.0,655.3 212.0,654.0 220.0,654.0 220.0,651.3 225.3,648.0 232.0,647.3 233.3,644.0 236.0,642.0 238.7,636.7 242.7,634.0 249.3,634.0 245.3,626.0 250.7,622.0 249.3,619.3 247.3,616.7 248.7,614.0 252.0,616.0 253.3,618.0 256.7,614.0 261.3,611.3 268.0,610.0 266.7,594.0"/>
<ellipse cx="104.2" cy="465.5" rx="0.9" ry="3.5"/>
<ellipse cx="97" cy="482.5" rx="1.2" ry="4.5"/>
<ellipse cx="381.7" cy="746" rx="4.6" ry="3.6"/>
<ellipse cx="166.5" cy="578.5" rx="0.8" ry="2.2"/>
</g>
<g fill="none" stroke="#ffffff" stroke-width="1.0" stroke-linejoin="round">
<polyline points="125.8,335.5 125.8,392.9 135.8,401.8"/>
<polyline points="150.4,335.5 150.4,340.0 136.7,340.4 133.6,351.6 126.0,352.9"/>
<polyline points="150.9,340.0 161.6,348.4 167.8,358.2"/>
<polyline points="161.6,348.4 188.2,335.5"/>
<polyline points="126.0,352.4 150.9,351.6 153.6,357.3 155.3,366.2 158.0,368.9 162.4,368.9"/>
<polyline points="89.3,335.5 98.5,356.7 96.8,362.5 86.0,363.3 86.8,370.8 82.7,377.5 87.7,387.5 91.0,392.5 90.5,400.0 90.0,409.0 84.5,417.5 91.0,427.0 80.0,426.0 76.0,421.5 72.0,423.5 67.0,417.0"/>
<polyline points="72.0,423.5 70.0,430.0 66.5,430.0"/>
<polyline points="66.5,436.0 94.0,456.0"/>
<polyline points="80.0,448.0 73.0,456.0 73.0,462.0 66.5,462.0"/>
<polyline points="66.5,479.0 72.0,480.0 74.0,485.0 73.0,490.0 78.0,492.0 80.7,497.3 78.7,505.3 71.3,508.0 70.0,514.7 66.5,516.0"/>
<polyline points="72.0,479.0 86.0,480.0"/>
<polyline points="66.8,348.3 72.7,348.3 74.3,360.0 66.5,362.5"/>
<polyline points="97.7,375.0 101.0,381.7 108.5,398.3 111.0,410.8 124.3,405.0 134.0,403.5"/>
<polyline points="70.0,514.7 82.0,520.0 83.3,524.0 84.7,522.0 95.3,520.7"/>
<polyline points="66.5,557.3 74.0,565.3 82.0,560.0 98.0,556.0 107.3,554.7"/>
<polyline points="74.0,565.3 74.0,572.0 70.0,573.3 66.5,578.7"/>
<polyline points="74.0,572.0 80.7,574.7 92.7,569.3 104.7,565.3 117.3,560.0"/>
<polyline points="80.7,574.7 79.3,586.7 74.0,596.0 72.7,604.3 76.0,607.0 74.7,612.3 79.3,622.3"/>
<polyline points="66.5,625.7 86.0,623.0 110.0,611.7 117.3,612.3"/>
<polyline points="66.5,641.7 79.3,645.7 87.3,653.7 90.7,667.0 92.7,670.3"/>
<polyline points="252.0,620.0 258.7,622.7 266.7,623.3 272.0,618.0 273.3,610.0 274.0,603.0"/>
<polyline points="266.7,623.3 272.0,627.3 276.0,636.7 284.0,642.0 285.3,648.7"/>
<polyline points="276.0,638.0 268.0,644.7 268.0,656.7 269.3,660.7 265.3,667.3 262.7,670.0 264.0,683.3 261.3,687.3 262.7,692.7"/>
<polyline points="233.3,646.0 234.7,655.3 237.3,662.0 236.0,666.0 226.7,666.0 218.7,676.7 213.3,674.0 205.3,672.7 196.0,660.7"/>
<polyline points="237.3,662.0 248.0,664.7 252.0,660.7 258.7,663.3 261.3,668.7 262.7,670.0"/>
<polyline points="248.0,664.7 252.0,675.3 248.0,688.7 249.3,703.3 246.7,719.3 244.0,730.0"/>
<polyline points="205.3,674.0 206.7,680.7 212.0,687.3 225.3,686.7 236.0,687.3 246.7,690.0"/>
<polyline points="212.0,687.3 209.3,695.3 196.0,695.3 193.3,698.0 197.3,712.7 188.0,712.7 183.0,711.3"/>
<polyline points="224.0,687.3 226.7,695.3 233.3,706.0 241.3,718.0 246.7,719.3"/>
<polyline points="209.3,695.3 205.3,706.0 210.7,716.7 210.7,725.7"/>
<polyline points="210.7,716.7 224.0,715.3 236.0,714.0 238.7,708.7 233.3,703.3 224.0,704.7 218.7,714.0"/>
<polyline points="264.0,686.0 272.0,684.7 274.7,683.3"/>
<polyline points="260.0,690.0 258.7,703.3 260.0,711.3 256.0,719.3 246.7,722.0"/>
<polyline points="210.7,715.0 210.0,725.7 210.7,741.7 206.7,749.7 205.3,756.3 200.0,760.3 196.0,777.7 202.7,781.7 200.7,788.3 204.0,793.7 200.0,796.3 197.3,812.3 192.0,819.5"/>
<polyline points="210.0,725.7 218.7,728.3 226.7,731.0 237.3,728.3 244.0,727.0 246.7,720.3 248.0,715.0"/>
<polyline points="244.0,727.0 244.0,733.7 252.0,731.0 259.3,733.7"/>
<polyline points="244.0,733.7 240.0,741.7 238.7,755.0 236.0,764.3 232.0,765.7 221.3,764.3 217.3,759.0 205.3,756.3"/>
<polyline points="210.7,743.7 221.3,739.7 226.7,744.3 233.3,742.3 238.7,743.7"/>
<polyline points="209.3,743.0 204.0,745.7 193.3,749.7 190.7,757.7 178.7,759.0 171.3,750.3"/>
<polyline points="232.0,765.7 234.7,780.3 229.3,780.3 228.0,791.0 222.7,792.3 221.3,793.7 230.7,801.7 233.3,797.7 238.7,797.7"/>
<polyline points="232.0,765.7 240.0,768.3 246.7,771.0"/>
<polyline points="202.7,779.0 210.7,773.7 217.3,776.3 221.3,784.3 222.7,792.3"/>
<polyline points="204.0,795.0 210.7,797.7 213.3,808.3 213.3,813.7 217.3,817.7"/>
</g>
<polyline points="576.00,570.60 552.25,575.10 527.30,580.20 515.30,573.00 503.35,570.10 487.00,566.80 474.60,561.00" fill="none" stroke="#222222" stroke-width="2.6" stroke-linejoin="round" stroke-linecap="butt"/>
<circle cx="552.25" cy="575.10" r="3.55" fill="#222222"/>
<circle cx="515.30" cy="573.00" r="2.90" fill="#fff" stroke="#222222" stroke-width="1.3"/>
<polyline points="504.30,567.70 503.35,570.10 489.00,571.50 480.30,573.50 473.00,577.10 450.30,577.30 437.00,578.00 423.30,579.30 407.60,585.90 386.20,589.30 365.60,589.00 348.25,593.30 330.00,593.30 309.25,593.30 286.50,596.60 267.40,605.50 246.00,606.20 223.40,607.10 208.90,614.00 189.40,621.60 174.50,622.70 146.30,615.40" fill="none" stroke="#2171b5" stroke-width="2.3" stroke-linejoin="round" stroke-linecap="butt"/>
<circle cx="504.3" cy="567.7" r="3.8" fill="#2171b5"/>
<circle cx="503.35" cy="570.10" r="3.55" fill="#222222"/>
<circle cx="450.30" cy="577.30" r="3.55" fill="#222222"/>
<circle cx="386.20" cy="589.30" r="3.55" fill="#222222"/>
<circle cx="309.25" cy="593.30" r="3.55" fill="#222222"/>
<circle cx="223.40" cy="607.10" r="3.55" fill="#222222"/>
<circle cx="480.30" cy="573.50" r="2.90" fill="#fff" stroke="#222222" stroke-width="1.3"/>
<circle cx="423.30" cy="579.30" r="2.90" fill="#fff" stroke="#222222" stroke-width="1.3"/>
<circle cx="348.25" cy="593.30" r="2.90" fill="#fff" stroke="#222222" stroke-width="1.3"/>
<circle cx="267.40" cy="605.50" r="2.90" fill="#fff" stroke="#222222" stroke-width="1.3"/>
<circle cx="189.40" cy="621.60" r="2.90" fill="#fff" stroke="#222222" stroke-width="1.3"/>
<polyline points="492.30,566.80 483.00,570.00 474.10,573.00 465.40,570.70 444.40,577.10 428.70,574.75 411.30,572.20 397.10,572.80 379.30,579.30 362.30,579.80 341.30,584.30 323.30,582.00 307.10,584.40 290.00,590.60 268.00,598.20 246.00,599.00 224.00,599.60 206.20,599.60 198.60,610.30 173.80,620.90 136.70,614.30" fill="none" stroke="#084594" stroke-width="2.3" stroke-linejoin="round" stroke-linecap="butt"/>
<circle cx="492.3" cy="566.8" r="3.8" fill="#084594"/>
<circle cx="444.40" cy="577.10" r="3.55" fill="#222222"/>
<circle cx="379.30" cy="579.30" r="3.55" fill="#222222"/>
<circle cx="307.10" cy="584.40" r="3.55" fill="#222222"/>
<circle cx="224.00" cy="599.60" r="3.55" fill="#222222"/>
<circle cx="136.70" cy="614.30" r="3.55" fill="#222222"/>
<circle cx="474.10" cy="573.00" r="2.90" fill="#fff" stroke="#222222" stroke-width="1.3"/>
<circle cx="411.30" cy="572.20" r="2.90" fill="#fff" stroke="#222222" stroke-width="1.3"/>
<circle cx="341.30" cy="584.30" r="2.90" fill="#fff" stroke="#222222" stroke-width="1.3"/>
<circle cx="268.00" cy="598.20" r="2.90" fill="#fff" stroke="#222222" stroke-width="1.3"/>
<circle cx="198.60" cy="610.30" r="2.90" fill="#fff" stroke="#222222" stroke-width="1.3"/>
<polyline points="474.20,561.30 450.85,554.90 429.80,554.90 401.80,557.25 354.00,566.50 307.10,576.00 224.00,599.80 146.30,615.40" fill="none" stroke="#777777" stroke-width="2.5" stroke-linejoin="round" stroke-linecap="butt"/>
<circle cx="474.4" cy="561.1" r="3.8" fill="#777777"/>
</g>
<rect x="66.5" y="335.5" width="509.0" height="509.0" fill="none" stroke="#000" stroke-width="1.1"/>
<text x="53.50" y="379.50" font-size="12.22" text-anchor="end" textLength="12.62" lengthAdjust="spacingAndGlyphs" fill="#000">0°</text>
<text x="53.50" y="467.50" font-size="12.22" text-anchor="end" textLength="19.68" lengthAdjust="spacingAndGlyphs" fill="#000">5°S</text>
<text x="53.50" y="555.50" font-size="12.22" text-anchor="end" textLength="26.74" lengthAdjust="spacingAndGlyphs" fill="#000">10°S</text>
<text x="53.50" y="643.50" font-size="12.22" text-anchor="end" textLength="26.74" lengthAdjust="spacingAndGlyphs" fill="#000">15°S</text>
<text x="53.50" y="731.50" font-size="12.22" text-anchor="end" textLength="26.74" lengthAdjust="spacingAndGlyphs" fill="#000">20°S</text>
<text x="53.50" y="819.50" font-size="12.22" text-anchor="end" textLength="26.74" lengthAdjust="spacingAndGlyphs" fill="#000">25°S</text>
<text x="108.30" y="865.10" font-size="12.22" text-anchor="middle" textLength="26.71" lengthAdjust="spacingAndGlyphs" fill="#000">40°E</text>
<text x="196.30" y="865.10" font-size="12.22" text-anchor="middle" textLength="26.71" lengthAdjust="spacingAndGlyphs" fill="#000">45°E</text>
<text x="284.30" y="865.10" font-size="12.22" text-anchor="middle" textLength="26.71" lengthAdjust="spacingAndGlyphs" fill="#000">50°E</text>
<text x="372.30" y="865.10" font-size="12.22" text-anchor="middle" textLength="26.71" lengthAdjust="spacingAndGlyphs" fill="#000">55°E</text>
<text x="460.30" y="865.10" font-size="12.22" text-anchor="middle" textLength="26.71" lengthAdjust="spacingAndGlyphs" fill="#000">60°E</text>
<text x="548.30" y="865.10" font-size="12.22" text-anchor="middle" textLength="26.71" lengthAdjust="spacingAndGlyphs" fill="#000">65°E</text>
<path d="M59.5 375.00H66.5M59.5 463.00H66.5M59.5 551.00H66.5M59.5 639.00H66.5M59.5 727.00H66.5M59.5 815.00H66.5M108.30 844.5V851.5M196.30 844.5V851.5M284.30 844.5V851.5M372.30 844.5V851.5M460.30 844.5V851.5M548.30 844.5V851.5" stroke="#000" stroke-width="1.1"/>
<text x="568.50" y="355.00" font-size="14.72" text-anchor="end" font-weight="bold" stroke="#000" stroke-width="0.25" textLength="41.65" lengthAdjust="spacingAndGlyphs" fill="#000">Track</text>
<line x1="72.00" y1="348.50" x2="98.00" y2="348.50" stroke="#222222" stroke-width="2.9"/>
<text x="105.50" y="351.60" font-size="12.22" text-anchor="start" textLength="28.48" lengthAdjust="spacingAndGlyphs" fill="#000">BEST</text>
<line x1="72.00" y1="362.60" x2="98.00" y2="362.60" stroke="#084594" stroke-width="2.9"/>
<text x="105.50" y="365.70" font-size="12.22" text-anchor="start" textLength="62.67" lengthAdjust="spacingAndGlyphs" fill="#000">00z 10 Dec</text>
<line x1="72.00" y1="376.70" x2="98.00" y2="376.70" stroke="#2171b5" stroke-width="2.9"/>
<text x="105.50" y="379.80" font-size="12.22" text-anchor="start" textLength="62.67" lengthAdjust="spacingAndGlyphs" fill="#000">18z 09 Dec</text>
<line x1="72.00" y1="390.80" x2="98.00" y2="390.80" stroke="#777777" stroke-width="2.9"/>
<text x="105.50" y="393.90" font-size="12.22" text-anchor="start" textLength="28.81" lengthAdjust="spacingAndGlyphs" fill="#000">JTWC</text>
<circle cx="85.50" cy="816.25" r="3.55" fill="#222222"/>
<text x="105.50" y="820.00" font-size="12.22" text-anchor="start" textLength="39.69" lengthAdjust="spacingAndGlyphs" fill="#000">00 UTC</text>
<circle cx="85.50" cy="830.30" r="2.90" fill="#fff" stroke="#222222" stroke-width="1.3"/>
<text x="105.50" y="834.10" font-size="12.22" text-anchor="start" textLength="39.69" lengthAdjust="spacingAndGlyphs" fill="#000">12 UTC</text>
<g id="logo">
<defs>
<clipPath id="noaac"><circle cx="20" cy="883" r="15"/></clipPath>
<clipPath id="cclip"><rect x="38" y="868" width="21.3" height="30"/></clipPath>
<linearGradient id="cirag" x1="0" y1="0" x2="0" y2="1"><stop offset="0" stop-color="#1e3c88"/><stop offset="0.5" stop-color="#225dad"/><stop offset="1" stop-color="#1f3b86"/></linearGradient>
<linearGradient id="globe" x1="0" y1="0" x2="1" y2="0.3"><stop offset="0" stop-color="#b8c4bc"/><stop offset="0.35" stop-color="#6f8aa0"/><stop offset="0.6" stop-color="#3d63b0"/><stop offset="1" stop-color="#3050a8"/></linearGradient>
</defs>
<g clip-path="url(#noaac)">
<rect x="4" y="867" width="32" height="32" fill="#ffffff"/>
<path d="M4.5 878.3 C8.5 882.5 12.5 887.5 17.5 889 C23 889.5 29.5 883 34.2 875.8 L36 900 L4 900 Z" fill="#0b7bc9"/>
<path d="M8 873.6 C10.5 869.3 15 867.8 20 867.8 C25 867.8 29.5 869.3 32 873.6 C29 878.5 25 884 20.3 885.8 C15.5 884 11 878.5 8 873.6 Z" fill="#22407f"/>
<path d="M15.8 889.3 C19.5 887.8 22.5 886.3 26.5 886 C23 887.5 20 889.2 16.3 890.3 Z" fill="#ffffff"/>
<g fill="#9aa6cc" opacity="0.75"><rect x="13.3" y="874.2" width="2.2" height="3.4"/><rect x="16.6" y="874.2" width="2.4" height="3.4"/><rect x="20" y="874.2" width="2.6" height="3.4"/><rect x="23.4" y="874.2" width="2.6" height="3.4"/></g>
</g>
<ellipse cx="50.2" cy="882.3" rx="10.2" ry="12.4" fill="url(#cirag)" clip-path="url(#cclip)"/>
<circle cx="52" cy="882.4" r="8.1" fill="#ffffff"/>
<circle cx="52" cy="882.4" r="7.5" fill="url(#globe)"/>
<path d="M45.5 878 C47.5 876.5 49.5 877 50.5 879 C49.5 881.5 47.5 883 46 885.5 C44.8 883 44.6 880.5 45.5 878Z" fill="#dfe5e0" opacity="0.6"/>
<path d="M62.3 870.3 H67 V894.3 H62.3 Z" fill="url(#cirag)"/>
<path d="M71.3 870.3 H79.5 C84.5 870.3 86.8 873.5 86.8 877.2 C86.8 880.6 84.6 883 81.6 883.6 L87.3 894.3 H82.3 L77.2 884.2 H75.8 V894.3 H71.3 Z" fill="url(#cirag)"/>
<path d="M75.8 873.5 C78.5 874 80.5 875.5 81.5 877.5 C80.8 879.8 79 881 76.5 881.3 L75.8 881.3 Z" fill="#2b66b8"/>
<path d="M76 874.2 L77.2 874 L79.8 878.6 L78.8 879.6 Z" fill="#d5dde8" opacity="0.85"/>
<path d="M98 870.6 L109.3 894.3 H86.5 Z" fill="url(#cirag)"/>
<path d="M93 886.5 L100 882.8 L101.8 885 L100.5 888.5 L98 894.3 H94.5 L96 890 Z" fill="#dde3ea"/>
</g>

</svg></body></html>
